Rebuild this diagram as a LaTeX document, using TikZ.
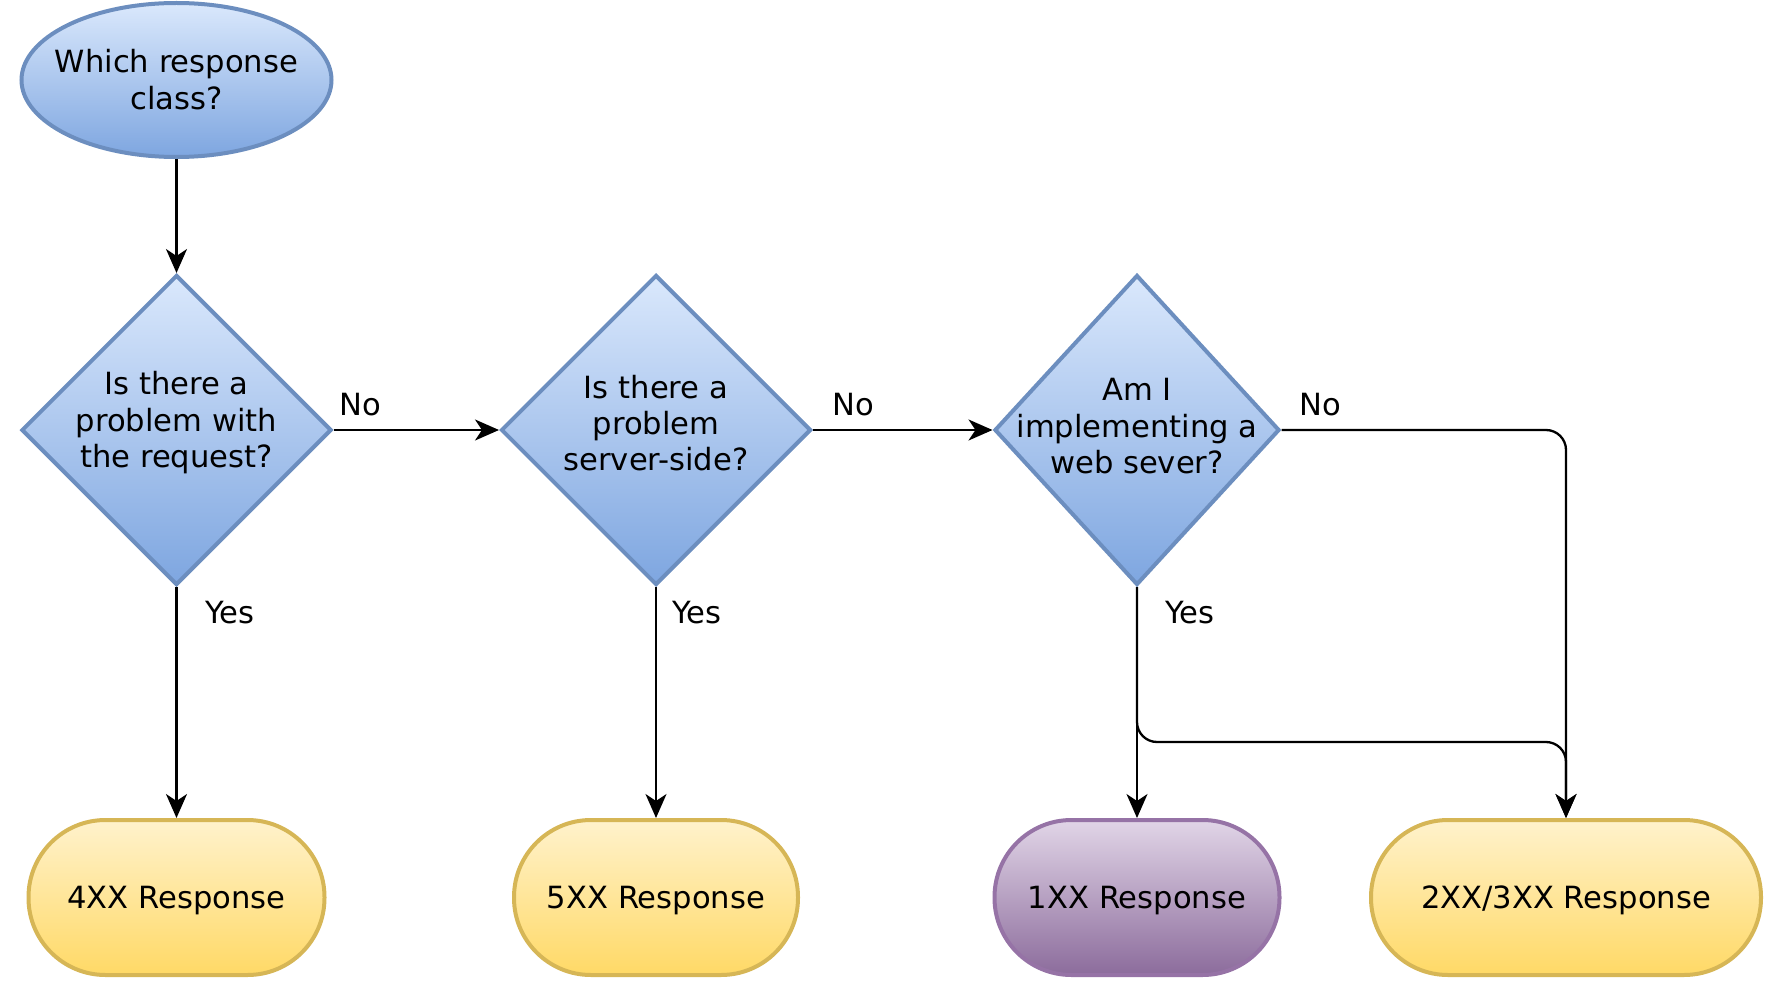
\documentclass[tikz,border=0pt]{standalone}
\usepackage{fontspec}
\setmainfont{DejaVu Sans}
\usetikzlibrary{shapes.geometric,arrows.meta}
\definecolor{bluetop}{HTML}{DAE8FC}
\definecolor{bluebot}{HTML}{7EA6E0}
\definecolor{blueline}{HTML}{6C8EBF}
\definecolor{yellowtop}{HTML}{FFF2CC}
\definecolor{yellowbot}{HTML}{FFD966}
\definecolor{yellowline}{HTML}{D6B656}
\definecolor{purpletop}{HTML}{E1D5E7}
\definecolor{purplebot}{HTML}{8C6C9C}
\definecolor{purpleline}{HTML}{9673A6}
\newcommand\flattext[2][0pt]{\makebox[0pt]{\smash{\raisebox{#1}{\begin{tabular}{@{}c@{}}#2\end{tabular}}}}}
\begin{document}
\begin{tikzpicture}[x=1pt,y=-1pt,
  every node/.style={font=\fontsize{30.6pt}{36.2pt}\selectfont},
  startnode/.style={ellipse, draw=blueline, line width=4pt, top color=bluetop, bottom color=bluebot, inner sep=0pt, minimum width=310pt, minimum height=154pt},
  decision/.style={diamond, draw=blueline, line width=4pt, top color=bluetop, bottom color=bluebot, inner sep=0pt, minimum width=310pt, minimum height=310pt},
  terminal/.style={rectangle, rounded corners=77pt, line width=4pt, inner sep=0pt, minimum height=155pt},
  yellowterm/.style={terminal, draw=yellowline, top color=yellowtop, bottom color=yellowbot},
  purpleterm/.style={terminal, draw=purpleline, top color=purpletop, bottom color=purplebot},
  conn/.style={line width=2.3pt, rounded corners=20pt, -{Stealth[length=24pt,width=21pt,inset=7pt]}},
  lbl/.style={inner sep=0pt}]
\useasboundingbox (0,0) rectangle (1774,1000);

\node[startnode] (q) at (176.5,80) {\flattext[-10pt]{Which response\\class?}};
\node[decision] (d1) at (176.5,430) {\flattext{Is there a\\problem with\\the request?}};
\node[decision] (d2) at (656,430) {\flattext[-3.5pt]{Is there a\\problem\\server-side?}};
\node[decision, minimum width=285pt] (d3) at (1137,430) {\flattext[-6pt]{Am I\\implementing a\\web sever?}};

\node[yellowterm, minimum width=296pt] (r4) at (176.5,897.5) {\flattext[-10pt]{4XX Response}};
\node[yellowterm, minimum width=284pt] (r5) at (656,897.5) {\flattext[-10pt]{5XX Response}};
\node[purpleterm, minimum width=285pt] (r1) at (1137,897.5) {\flattext[-10pt]{1XX Response}};
\node[yellowterm, minimum width=390pt] (r2) at (1566,897.5) {\flattext[-10pt]{2XX/3XX Response}};

\coordinate (j) at (1566,742);

\draw[conn] (q) -- (d1);
\draw[conn] (d1.east) -- (d2.west);
\draw[conn] (d2.east) -- (d3.west);
\draw[conn] (d3.east) -| (r2.north);
\draw[conn] (d1.south) -- (r4.north);
\draw[conn] (d2.south) -- (r5.north);
\draw[conn] (d3.south) -- (r1.north);
\draw[conn] (d3.south) |- (j) -- (r2.north);

\node[lbl] (no1) at (360,405) {No};
\node[lbl] (no2) at (853,405) {No};
\node[lbl] (no3) at (1320,405) {No};
\node[lbl] (yes1) at (230,613) {Yes};
\node[lbl] (yes2) at (697,613) {Yes};
\node[lbl] (yes3) at (1190,613) {Yes};
\end{tikzpicture}
\end{document}
